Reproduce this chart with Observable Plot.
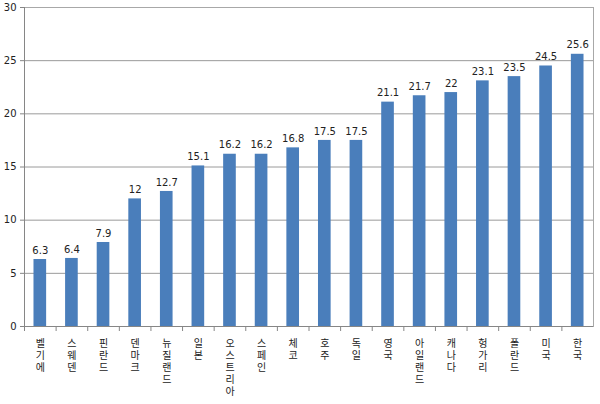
<!DOCTYPE html>
<html><head><meta charset="utf-8">
<script src="https://cdn.jsdelivr.net/npm/d3@7"></script>
<script src="https://cdn.jsdelivr.net/npm/@observablehq/plot@0.6"></script>
<style>
html,body{margin:0;padding:0;background:#fff;}
</style>
</head><body>
<div id="chart"></div>
<script>
const countries = ["벨기에","스웨덴","핀란드","덴마크","뉴질랜드","일본","오스트리아","스페인","체코","호주","독일","영국","아일랜드","캐나다","헝가리","폴란드","미국","한국"];
const values = [6.3,6.4,7.9,12,12.7,15.1,16.2,16.2,16.8,17.5,17.5,21.1,21.7,22,23.1,23.5,24.5,25.6];
const yTicks = [0,5,10,15,20,25,30];

const data = countries.map((c, i) => ({country: c, value: values[i]}));
const W = 600, ML = 24, MR = 7;
const step = (W - ML - MR) / countries.length;

const chart = Plot.plot({
  width: W,
  height: 404,
  marginLeft: ML,
  marginRight: MR,
  marginTop: 7,
  marginBottom: 78,
  style: {fontFamily: "'DejaVu Sans', 'Noto Sans CJK KR', sans-serif", fontSize: "10px", color: "#222", background: "#fff"},
  x: {domain: countries, paddingInner: 0.6, paddingOuter: 0.3, round: false},
  y: {domain: [0, 30]},
  marks: [
    Plot.gridY(yTicks, {stroke: "#9a9a9a", strokeOpacity: 1}),
    Plot.frame({stroke: "#a8a8a8"}),
    Plot.barY(data, {x: "country", y: "value", fill: "#4a7ebb"}),
    Plot.text(data, {x: "country", y: "value", text: d => String(d.value), dy: -9, fill: "#222", fontSize: 10}),
    Plot.ruleY([0], {stroke: "#868686"}),
    Plot.frame({anchor: "left", stroke: "#868686"}),
    Plot.axisY(yTicks, {tickSize: 4, tickPadding: 4, stroke: "#868686", label: null, fill: "#222"}),
    Plot.axisX({tickSize: 5, text: null, dx: -step / 2, stroke: "#868686", label: null}),
    Plot.axisX({tickSize: 0, tickPadding: 12, tickFormat: d => [...d].join("\n"), lineHeight: 1.2, label: null, fill: "#222", fontSize: 10})
  ]
});
document.getElementById("chart").append(chart);
</script>
</body></html>
